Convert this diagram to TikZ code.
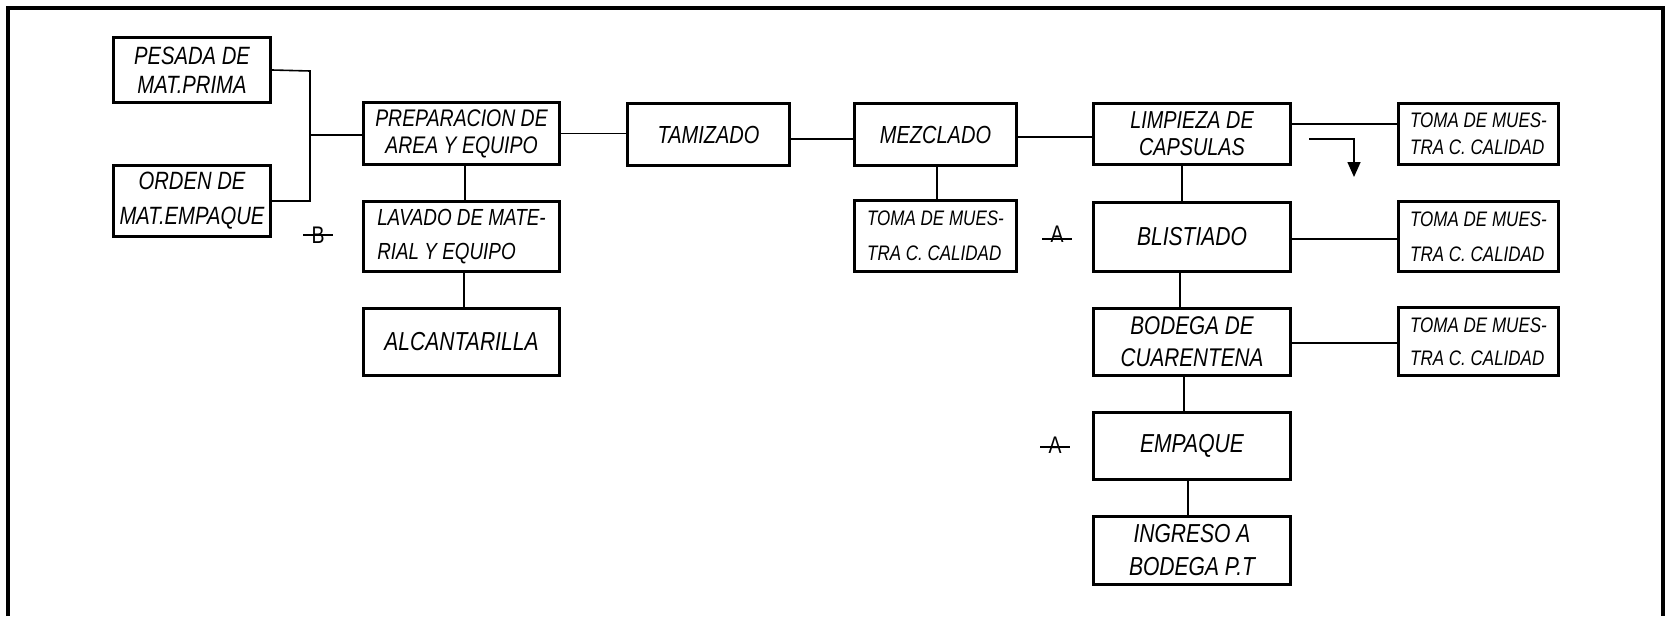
\documentclass[tikz,border=0pt]{standalone}
\usepackage{fontspec}
\setmainfont{Liberation Sans}[FakeStretch=0.81]
\usetikzlibrary{arrows.meta}
\newcommand\fs[2]{\fontsize{#1}{#2}\selectfont\itshape}
\begin{document}
\begin{tikzpicture}[x=1pt,y=-1pt,
  bx/.style={draw,line width=3.2pt,inner sep=0pt,align=center},
  bxl/.style={bx,align=left},
  con/.style={line width=1.6pt},
  mk/.style={inner xsep=8pt,inner ysep=0pt,font=\fontsize{24}{24}\selectfont}]
\useasboundingbox (0,0) rectangle (1668,616);
\draw[line width=3.3pt] (8,616) -- (8,8) -- (1663,8) -- (1663,616);
% left column
\node[bx,minimum width=157,minimum height=65,font=\fs{25}{29}] (pesada) at (192,70) {PESADA DE\\MAT.PRIMA};
\node[bx,minimum width=157,minimum height=71,font=\fs{25}{35}] (orden) at (192,201) {ORDEN DE\\MAT.EMPAQUE};
\node[bx,minimum width=196,minimum height=62,font=\fs{24}{27}] (prep) at (461.5,133.5) {PREPARACION DE\\AREA Y EQUIPO};
\node[bxl,minimum width=196,minimum height=70,font=\fs{23.3}{34}] (lavado) at (461.5,236.5) {LAVADO DE MATE-\\RIAL Y EQUIPO};
\node[bx,minimum width=196,minimum height=67,font=\fs{26}{30}] (alc) at (461.5,342) {ALCANTARILLA};
\node[bx,minimum width=162,minimum height=62,font=\fs{24.7}{30}] (tamiz) at (708.5,134.5) {TAMIZADO};
\node[bx,minimum width=162,minimum height=62,font=\fs{24.7}{30}] (mez) at (935.5,134.5) {MEZCLADO};
\node[bxl,minimum width=162,minimum height=71,font=\fs{21}{35}] (tomam) at (935.5,236) {TOMA DE MUES-\\TRA C. CALIDAD};
% right column
\node[bx,minimum width=197,minimum height=61,font=\fs{24.5}{27}] (limp) at (1192,134) {LIMPIEZA DE\\CAPSULAS};
\node[bx,minimum width=197,minimum height=69,font=\fs{26}{30}] (blis) at (1192,237) {BLISTIADO};
\node[bx,minimum width=197,minimum height=67,font=\fs{25.6}{32}] (bod) at (1192,342) {BODEGA DE\\CUARENTENA};
\node[bx,minimum width=197,minimum height=67,font=\fs{26}{30}] (emp) at (1192,446) {EMPAQUE};
\node[bx,minimum width=197,minimum height=68,font=\fs{26}{33}] (ing) at (1192,550.5) {INGRESO A\\BODEGA P.T};
\node[bxl,minimum width=160,minimum height=61,font=\fs{21}{27}] (toma1) at (1478.5,134) {TOMA DE MUES-\\TRA C. CALIDAD};
\node[bxl,minimum width=160,minimum height=70,font=\fs{21}{35}] (toma2) at (1478.5,236.5) {TOMA DE MUES-\\TRA C. CALIDAD};
\node[bxl,minimum width=160,minimum height=68,font=\fs{21}{33}] (toma3) at (1478.5,341.5) {TOMA DE MUES-\\TRA C. CALIDAD};
% markers
\node[mk] (mB) at (318,235) {B};
\node[mk] (mA1) at (1057,234) {A};
\node[mk] (mA3) at (1055,445) {A};
\draw[con] (mB.west) -- (mB.east);
\draw[con] ([yshift=-5pt]mA1.west) -- ([yshift=-5pt]mA1.east);
\draw[con] ([yshift=-2pt]mA3.west) -- ([yshift=-2pt]mA3.east);
% connectors
\coordinate (jt) at (310,71);
\coordinate (jb) at (310,201);
\coordinate (jm) at (310,135);
\draw[con] (pesada.east) -- (jt) -- (jb) -- (orden.east);
\draw[con] (jm) -- (prep.west |- jm);
\draw[con] ([xshift=3.5pt]prep.south) -- ([xshift=3.5pt]lavado.north);
\draw[con] ([xshift=2.5pt]lavado.south) -- ([xshift=2.5pt]alc.north);
\draw[con] (prep.east) -- (tamiz.west |- prep.east);
\draw[con] ([yshift=-4.5pt]tamiz.east) -- ([yshift=-4.5pt]mez.west);
\draw[con] ([yshift=-2.5pt]mez.east) -- ([yshift=-3pt]limp.west);
\draw[con] ([xshift=1.5pt]mez.south) -- ([xshift=1.5pt]tomam.north);
\draw[con] ([yshift=10pt]limp.east) -- ([yshift=10pt]toma1.west);
\draw[con] ([yshift=-2pt]blis.east) -- ([yshift=-2.5pt]toma2.west);
\draw[con] ([yshift=-1pt]bod.east) -- ([yshift=-1.5pt]toma3.west);
\draw[con] ([xshift=-10pt]limp.south) -- ([xshift=-10pt]blis.north);
\draw[con] ([xshift=-12pt]blis.south) -- ([xshift=-12pt]bod.north);
\draw[con] ([xshift=-8pt]bod.south) -- ([xshift=-8pt]emp.north);
\draw[con] ([xshift=-4pt]emp.south) -- ([xshift=-4pt]ing.north);
\coordinate (arS) at (1309,139);
\coordinate (arM) at (1354,139);
\coordinate (arE) at (1354,177);
\draw[con,-{Triangle[width=13pt,length=15pt]}] (arS) -- (arM) -- (arE);
\end{tikzpicture}
\end{document}
